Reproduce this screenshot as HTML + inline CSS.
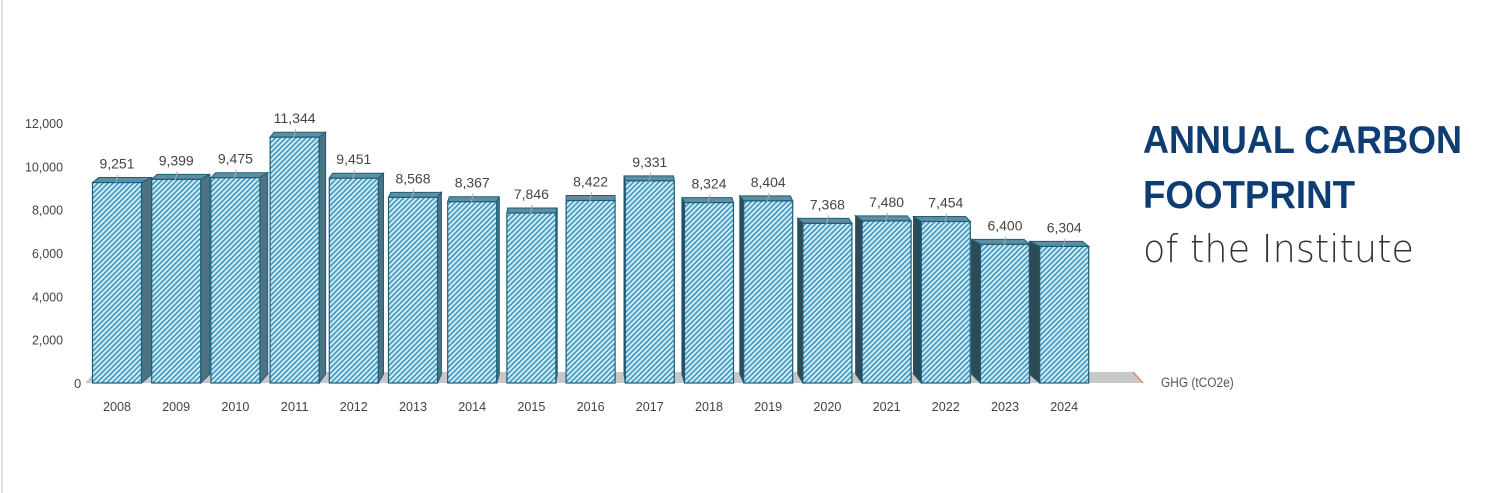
<!DOCTYPE html>
<html><head><meta charset="utf-8"><style>
html,body{margin:0;padding:0;background:#fff;}
#w{position:relative;width:1500px;height:493px;overflow:hidden;}
</style></head><body><div id="w">
<svg id="s" width="1500" height="493" xmlns="http://www.w3.org/2000/svg" style="position:absolute;left:0;top:0">
<defs>
<pattern id="h" patternUnits="userSpaceOnUse" width="3.6" height="3.6" patternTransform="rotate(45)">
<rect width="3.6" height="3.6" fill="#cbe9f5"/><rect width="1.4" height="3.6" fill="#3590b6"/>
</pattern>
</defs>
<line x1="2" y1="0" x2="2" y2="493" stroke="#e2e2e2" stroke-width="2"/>
<polygon points="85,383 1143,383 1133,372 95,372" fill="#c8c8c8"/>
<line x1="1133" y1="372" x2="1143" y2="383" stroke="#e8865a" stroke-width="1.5"/>
<g id="bars"></g>
<text x="74" y="388" font-family="Liberation Sans, sans-serif" font-size="13" fill="#444">0</text>
<text x="1161" y="387" font-family="Liberation Sans, sans-serif" font-size="14" fill="#555" transform="translate(1161,0) scale(0.85,1) translate(-1161,0)">GHG (tCO2e)</text>
<g font-family="Liberation Sans, sans-serif" font-weight="bold" fill="#0d3d72" font-size="39">
<text x="1143" y="153" textLength="319" lengthAdjust="spacingAndGlyphs">ANNUAL CARBON</text>
<text x="1143" y="208" textLength="212" lengthAdjust="spacingAndGlyphs">FOOTPRINT</text>
</g>
<text x="1143" y="262" font-family="DejaVu Sans, sans-serif" font-weight="200" font-size="38" fill="#333" textLength="271" lengthAdjust="spacingAndGlyphs">of the Institute</text>
</svg>
<script>
var vals=[9251,9399,9475,11344,9451,8568,8367,7846,8422,9331,8324,8404,7368,7480,7454,6400,6304];
var g=document.getElementById('bars'),s='',base=383,k=260/12000;
for(var i=0;i<vals.length;i++){
 var cx=117+i*59.2,x0=cx-24.5,x1=cx+24.5,yt=base-vals[i]*k;
 var d=(591-cx)*0.022;
 var dy=5, sx=Math.abs(d)<1?0:d;
 var tx=sx*0.6;
 s+='<polygon points="'+x0+','+yt+' '+x1+','+yt+' '+(x1+tx+(d>0?d*0.4:0))+','+(yt-dy)+' '+(x0+tx+(d<0?d*0.4:0))+','+(yt-dy)+'" fill="#5f8ea0" stroke="#1d5c7a" stroke-width="1"/>';
 if(d>0.5){
  s+='<polygon points="'+x1+','+yt+' '+(x1+d)+','+(yt-dy)+' '+(x1+d)+','+(base-dy-4)+' '+x1+','+base+'" fill="#4d7383" stroke="#1d5c7a" stroke-width="1"/>';
 } else if(d<-0.5){
  s+='<polygon points="'+x0+','+yt+' '+(x0+d)+','+(yt-dy)+' '+(x0+d)+','+(base-dy-4)+' '+x0+','+base+'" fill="#2e4a55" stroke="#1d5c7a" stroke-width="1"/>';
 }
 s+='<rect x="'+x0+'" y="'+yt+'" width="49" height="'+(base-yt)+'" fill="url(#h)" stroke="#1d5c7a" stroke-width="1.2"/>';
 s+='<line x1="'+(cx-1)+'" y1="'+(yt+1)+'" x2="'+(cx+1)+'" y2="'+(yt-8)+'" stroke="#aaa"/>';
 var t=vals[i].toLocaleString('en-US');
 s+='<text x="'+cx+'" y="'+(yt-14)+'" text-anchor="middle" font-family="Liberation Sans, sans-serif" font-size="14" fill="#444" textLength="'+(t.length*7)+'" lengthAdjust="spacingAndGlyphs">'+t+'</text>';
 s+='<text x="'+cx+'" y="411" text-anchor="middle" font-family="Liberation Sans, sans-serif" font-size="13" fill="#444" textLength="28" lengthAdjust="spacingAndGlyphs">'+(2008+i)+'</text>';
}
var ticks=[2000,4000,6000,8000,10000,12000];
for(var j=0;j<ticks.length;j++){
 var y=base-ticks[j]*k+5;
 s+='<text x="63" y="'+y+'" text-anchor="end" font-family="Liberation Sans, sans-serif" font-size="13" fill="#444" textLength="'+(ticks[j]>=10000?38:31)+'" lengthAdjust="spacingAndGlyphs">'+ticks[j].toLocaleString('en-US')+'</text>';
}
g.innerHTML=s;
</script>
</div></body></html>
